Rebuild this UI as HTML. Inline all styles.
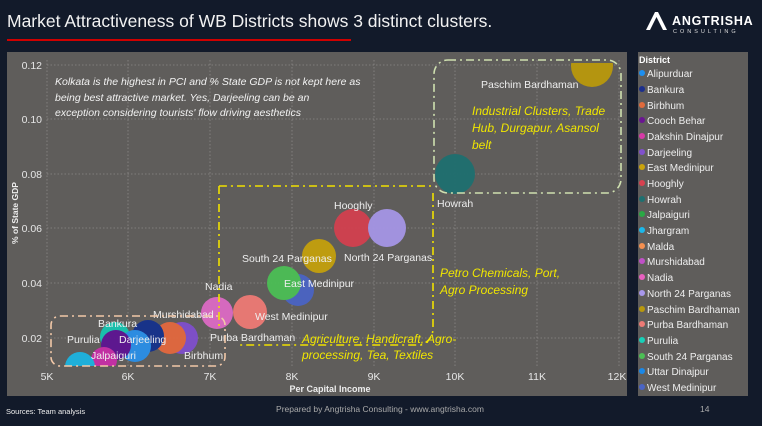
<!DOCTYPE html>
<html><head><meta charset="utf-8"><style>
body{margin:0;width:762px;height:426px;background:#111827;overflow:hidden;font-family:"Liberation Sans",sans-serif}
svg{display:block}
</style></head><body>
<svg width="762" height="426" viewBox="0 0 762 426" font-family="Liberation Sans, sans-serif">
<rect width="762" height="426" fill="#121a2a"/>
<text x="7" y="27" fill="#f2f2f2" font-size="17.5">Market Attractiveness of WB Districts shows 3 distinct clusters.</text>
<rect x="7" y="39" width="344" height="2" fill="#d00000"/>
<g transform="translate(646,12)">
<path d="M0 18 L9 0 L12 0 L21 18 L17 18 L10.5 5 L4 18 Z" fill="#fff"/>
<text x="26" y="13" fill="#fff" font-size="12.5" letter-spacing="0.8" font-weight="bold">ANGTRISHA</text>
<text x="27" y="21" fill="#ddd" font-size="5.5" letter-spacing="3">CONSULTING</text>
</g>
<rect x="7" y="52" width="620" height="344" fill="#5f5d5b"/>
<g stroke="#8a8886" stroke-width="0.8" stroke-dasharray="1.5,2">
<line x1="47" y1="65" x2="619" y2="65"/><line x1="47" y1="119" x2="619" y2="119"/><line x1="47" y1="174" x2="619" y2="174"/><line x1="47" y1="228" x2="619" y2="228"/><line x1="47" y1="283" x2="619" y2="283"/><line x1="47" y1="338" x2="619" y2="338"/>
<line x1="47" y1="60" x2="47" y2="366"/><line x1="128" y1="60" x2="128" y2="366"/><line x1="210" y1="60" x2="210" y2="366"/><line x1="292" y1="60" x2="292" y2="366"/><line x1="374" y1="60" x2="374" y2="366"/><line x1="455" y1="60" x2="455" y2="366"/><line x1="537" y1="60" x2="537" y2="366"/><line x1="619" y1="60" x2="619" y2="366"/>
</g>
<g fill="#e6e6e6" font-size="10.5" text-anchor="end">
<text x="42" y="69">0.12</text><text x="42" y="123">0.10</text><text x="42" y="178">0.08</text><text x="42" y="232">0.06</text><text x="42" y="287">0.04</text><text x="42" y="342">0.02</text>
</g>
<g fill="#e6e6e6" font-size="10.5" text-anchor="middle">
<text x="47" y="380">5K</text><text x="128" y="380">6K</text><text x="210" y="380">7K</text><text x="292" y="380">8K</text><text x="374" y="380">9K</text><text x="455" y="380">10K</text><text x="537" y="380">11K</text><text x="617" y="380">12K</text>
</g>
<text x="330" y="392" fill="#eee" font-size="9" font-weight="bold" text-anchor="middle">Per Capital Income</text>
<text transform="translate(18,213) rotate(-90)" fill="#eee" font-size="8.5" font-weight="bold" text-anchor="middle">% of State GDP</text>
<g fill="#f2f2f2" font-size="10.5" font-style="italic">
<text x="55" y="85">Kolkata is the highest  in PCI and % State GDP is not kept here as</text>
<text x="55" y="101">being best attractive market. Yes, Darjeeling can be an</text>
<text x="55" y="116">exception considering tourists' flow driving aesthetics</text>
</g>
<defs><clipPath id="pc"><rect x="40" y="63" width="590" height="303"/></clipPath></defs>
<g clip-path="url(#pc)" opacity="0.95">
<circle cx="592" cy="66" r="21" fill="#b8980d"/>
<circle cx="455" cy="174" r="20" fill="#1e6f70"/>
<circle cx="353" cy="228" r="19" fill="#d2404f"/>
<circle cx="387" cy="228" r="19" fill="#a595e6"/>
<circle cx="319" cy="256" r="17" fill="#c4a00c"/>
<circle cx="298" cy="290" r="16" fill="#4a64c4"/>
<circle cx="284" cy="283" r="17" fill="#4cbe55"/>
<circle cx="217" cy="313" r="16" fill="#dc6ac4"/>
<circle cx="250" cy="312" r="17" fill="#ee7a75"/>
<circle cx="182" cy="338" r="16" fill="#7f4fcc"/>
<circle cx="170" cy="338" r="16" fill="#e3683e"/>
<circle cx="148" cy="336" r="16" fill="#15318c"/>
<circle cx="115" cy="337" r="15" fill="#17c4b0"/>
<circle cx="135" cy="346" r="16" fill="#2a8fe8"/>
<circle cx="116" cy="345" r="15" fill="#5d1592"/>
<circle cx="104" cy="360" r="13" fill="#c72ea6"/>
<circle cx="80" cy="367" r="15" fill="#1cb4e0"/>
</g>
<g fill="#eeeeee" font-size="10.5">
<text x="481" y="88">Paschim Bardhaman</text>
<text x="437" y="207">Howrah</text>
<text x="334" y="209">Hooghly</text>
<text x="344" y="261">North 24 Parganas</text>
<text x="242" y="262">South 24 Parganas</text>
<text x="284" y="287">East Medinipur</text>
<text x="205" y="290">Nadia</text>
<text x="255" y="320">West Medinipur</text>
<text x="153" y="318">Murshidabad</text>
<text x="210" y="341">Purba Bardhaman</text>
<text x="98" y="327">Bankura</text>
<text x="67" y="343">Purulia</text>
<text x="119" y="343">Darjeeling</text>
<text x="91" y="359">Jalpaiguri</text>
<text x="184" y="359">Birbhum</text>
</g>
<g fill="none" stroke-width="1.6" stroke-dasharray="8,4,2,4">
<rect x="434" y="60" width="187" height="133" rx="14" stroke="#cfe0b0"/>
<path d="M433 193 L433 328 Q433 340 421 345 L240 345 M219 186 L219 330 M219 186 Q219 186 232 186 L433 186" stroke="#f0e000"/>
<rect x="51" y="316" width="174" height="50" rx="9" stroke="#f2c8a8"/>
</g>
<g fill="#f0e600" font-size="12" font-style="italic">
<text x="472" y="115">Industrial Clusters, Trade</text>
<text x="472" y="132">Hub, Durgapur, Asansol</text>
<text x="472" y="149">belt</text>
<text x="440" y="277">Petro Chemicals, Port,</text>
<text x="440" y="294">Agro Processing</text>
<text x="302" y="343">Agriculture, Handicraft, Agro-</text>
<text x="302" y="359">processing, Tea, Textiles</text>
</g>
<rect x="638" y="52" width="110" height="344" fill="#5f5d5b"/>
<text x="639" y="63" fill="#fff" font-size="9" font-weight="bold">District</text>
<g font-size="10" fill="#eee">
<circle cx="642" cy="73" r="3" fill="#1d8ff0"/><text x="647" y="77">Alipurduar</text>
<circle cx="642" cy="89" r="3" fill="#1c2f8c"/><text x="647" y="93">Bankura</text>
<circle cx="642" cy="105" r="3" fill="#e06a3c"/><text x="647" y="109">Birbhum</text>
<circle cx="642" cy="120" r="3" fill="#6a1592"/><text x="647" y="124">Cooch Behar</text>
<circle cx="642" cy="136" r="3" fill="#d83aa8"/><text x="647" y="140">Dakshin Dinajpur</text>
<circle cx="642" cy="152" r="3" fill="#8050cc"/><text x="647" y="156">Darjeeling</text>
<circle cx="642" cy="167" r="3" fill="#c9a30c"/><text x="647" y="171">East Medinipur</text>
<circle cx="642" cy="183" r="3" fill="#d8404f"/><text x="647" y="187">Hooghly</text>
<circle cx="642" cy="199" r="3" fill="#1e7070"/><text x="647" y="203">Howrah</text>
<circle cx="642" cy="214" r="3" fill="#2aa845"/><text x="647" y="218">Jalpaiguri</text>
<circle cx="642" cy="230" r="3" fill="#1cb8ea"/><text x="647" y="234">Jhargram</text>
<circle cx="642" cy="246" r="3" fill="#f59050"/><text x="647" y="250">Malda</text>
<circle cx="642" cy="261" r="3" fill="#c050c8"/><text x="647" y="265">Murshidabad</text>
<circle cx="642" cy="277" r="3" fill="#e860c0"/><text x="647" y="281">Nadia</text>
<circle cx="642" cy="293" r="3" fill="#a898ec"/><text x="647" y="297">North 24 Parganas</text>
<circle cx="642" cy="309" r="3" fill="#b8980d"/><text x="647" y="313">Paschim Bardhaman</text>
<circle cx="642" cy="324" r="3" fill="#ee7a75"/><text x="647" y="328">Purba Bardhaman</text>
<circle cx="642" cy="340" r="3" fill="#18d0b8"/><text x="647" y="344">Purulia</text>
<circle cx="642" cy="356" r="3" fill="#4cc055"/><text x="647" y="360">South 24 Parganas</text>
<circle cx="642" cy="371" r="3" fill="#1a88e8"/><text x="647" y="375">Uttar Dinajpur</text>
<circle cx="642" cy="387" r="3" fill="#4a64c4"/><text x="647" y="391">West Medinipur</text>
</g>
<text x="6" y="414" fill="#eee" font-size="7.5">Sources: Team analysis</text>
<text x="380" y="412" fill="#aaa" font-size="8.5" text-anchor="middle">Prepared by Angtrisha Consulting - www.angtrisha.com</text>
<text x="700" y="412" fill="#aaa" font-size="8.5">14</text>
</svg>
</body></html>
